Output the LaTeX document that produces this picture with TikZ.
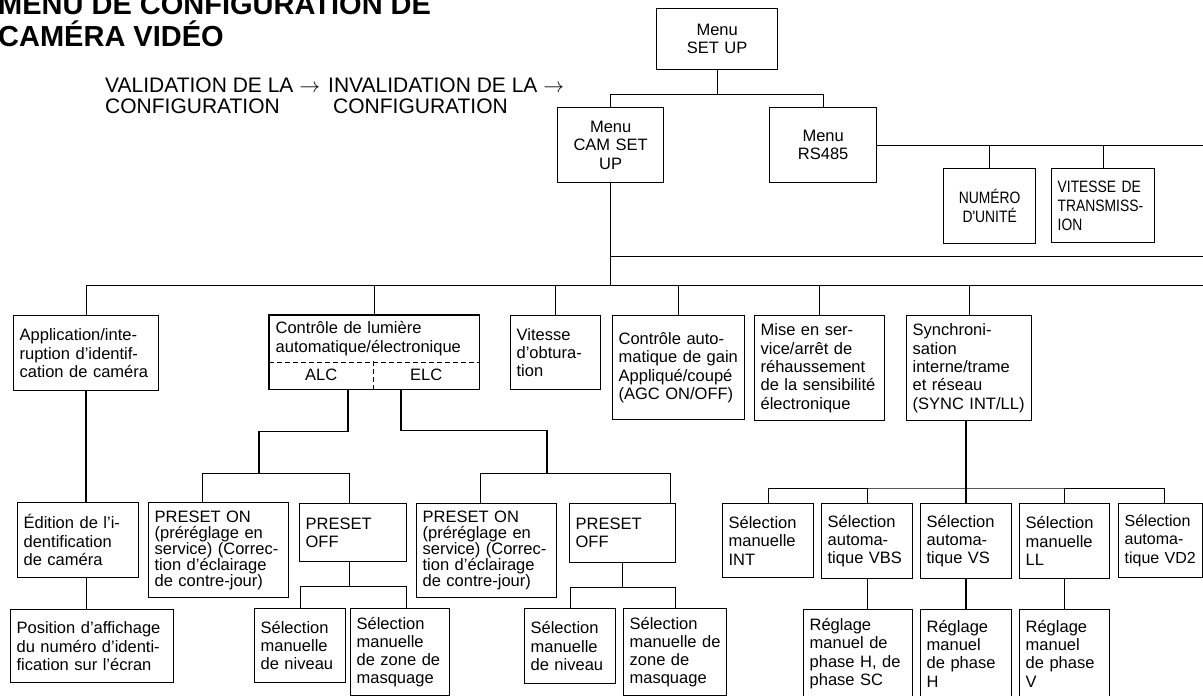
\documentclass[tikz,border=0pt]{standalone}
\usepackage{fontspec}
\setmainfont{Liberation Sans}
\newfontfamily\narrowfont[FakeStretch=0.84]{Liberation Sans}
\newcommand{\boxfont}{\fontsize{16.5}{18.3}\selectfont}
\newcommand{\presetfont}{\fontsize{16.5}{16}\selectfont}
\newcommand{\valfont}{\fontsize{21}{22}\selectfont}
\tikzset{
  box/.style = {draw, line width=1.3pt, anchor=north west, align=left,
                inner xsep=6pt, inner ysep=0pt, font=\boxfont},
  cbox/.style = {box, align=center},
  half/.style = {anchor=north west, inner sep=0pt, minimum height=28pt, font=\boxfont},
  plain/.style = {anchor=base west, inner sep=0pt},
  link/.style = {line width=1pt},
  thicklink/.style = {line width=1.7pt}
}

\begin{document}
\begin{tikzpicture}[x=1pt, y=-1pt]
  \useasboundingbox[fill=white] (0,0) rectangle (1203,696);
  \clip (0,0) rectangle (1203,696);

  \node[plain, font=\fontsize{29}{31}\bfseries] (title1) at (-2,15) {MENU DE CONFIGURATION DE};
  \node[plain, font=\fontsize{29}{31}\bfseries] (title2) at (-2,46) {CAMÉRA VIDÉO};
  \node[plain, font=\valfont] (valon) at (105,92) {VALIDATION DE LA $\rightarrow$};
  \node[plain, font=\valfont] (valon2) at (105,113) {CONFIGURATION};
  \node[plain, font=\valfont] (valoff) at (328,92) {INVALIDATION DE LA $\rightarrow$};
  \node[plain, font=\valfont] (valoff2) at (333,113) {CONFIGURATION};

  % menus
  \node[cbox, text width=109pt, minimum height=61pt] (setup) at (656,8) {Menu\\SET UP};
  \node[cbox, text width=94pt, minimum height=75pt] (camsetup) at (557,107) {Menu\\CAM SET\\UP};
  \node[cbox, text width=95pt, minimum height=75pt] (rs485) at (769,107) {Menu\\RS485};
  \node[cbox, font=\narrowfont\fontsize{16.5}{19}\selectfont, text width=80pt, minimum height=75pt] (unitno) at (943,168) {NUMÉRO\\D'UNITÉ};
  \node[box, font=\narrowfont\fontsize{16.5}{19}\selectfont, text width=91pt, minimum height=74pt] (baudrate) at (1051,168) {VITESSE DE\\TRANSMISS-\\ION};

  % camera set up items
  \node[box, text width=133pt, minimum height=75pt] (appid) at (13,315) {Application/inte-\\ruption d'identif-\\cation de caméra};
  \node[box, draw=none, text width=198pt, minimum height=46pt] (light) at (269,315) {Contrôle de lumière\\automatique/électronique};
  \node[half, minimum width=104pt] (alc) at (269,361) {ALC};
  \node[half, minimum width=106pt] (elc) at (373,361) {ELC};
  \draw[line width=1.3pt] (light.north west) rectangle (elc.south east);
  \draw[link, dashed, dash pattern=on 5pt off 3pt] (light.south west) -- (light.south east) (alc.north east) -- (alc.south east);
  \node[box, text width=78pt, minimum height=74pt] (shutter) at (510,315) {Vitesse\\d'obtura-\\tion};
  \node[box, text width=120pt, minimum height=104pt] (agc) at (612,315) {Contrôle auto-\\matique de gain\\Appliqué/coupé\\(AGC ON/OFF)};
  \node[box, text width=118pt, minimum height=105pt] (sens) at (754,315) {Mise en ser-\\vice/arrêt de\\réhaussement\\de la sensibilité\\électronique};
  \node[box, text width=113pt, minimum height=105pt] (sync) at (906,315) {Synchroni-\\sation\\interne/trame\\et réseau\\(SYNC INT/LL)};

  \node[box, text width=109pt, minimum height=75pt] (idedit) at (17,502) {Édition de l'i-\\dentification\\de caméra};
  \node[box, text width=151pt, minimum height=73pt] (idpos) at (10,609) {Position d'affichage\\du numéro d'identi-\\fication sur l'écran};

  \node[box, font=\presetfont, text width=128pt, minimum height=95pt] (preon1) at (148,502) {PRESET ON\\(préréglage en\\service) (Correc-\\tion d'éclairage\\de contre-jour)};
  \node[box, text width=95pt, minimum height=58pt] (preoff1) at (299,503) {PRESET\\OFF};
  \node[box, text width=79pt, minimum height=74pt] (level1) at (254,608) {Sélection\\manuelle\\de niveau};
  \node[box, text width=87pt, minimum height=87pt] (mask1) at (350,608) {Sélection\\manuelle\\de zone de\\masquage};
  \node[box, font=\presetfont, text width=128pt, minimum height=94pt] (preon2) at (416,503) {PRESET ON\\(préréglage en\\service) (Correc-\\tion d'éclairage\\de contre-jour)};
  \node[box, text width=94pt, minimum height=59pt] (preoff2) at (569,503) {PRESET\\OFF};
  \node[box, text width=79pt, minimum height=75pt] (level2) at (524,608) {Sélection\\manuelle\\de niveau};
  \node[box, text width=91pt, minimum height=87pt] (mask2) at (623,608) {Sélection\\manuelle de\\zone de\\masquage};

  \node[box, text width=79pt, minimum height=74pt] (intsel) at (722,503) {Sélection\\manuelle\\INT};
  \node[box, text width=79pt, minimum height=75pt] (vbs) at (821,503) {Sélection\\automa-\\tique VBS};
  \node[box, text width=79pt, minimum height=75pt] (vs) at (920,503) {Sélection\\automa-\\tique VS};
  \node[box, text width=78pt, minimum height=75pt] (llsel) at (1019,503) {Sélection\\manuelle\\LL};
  \node[box, font=\fontsize{16}{18.3}\selectfont, text width=72pt, minimum height=74pt] (vd2) at (1118,503) {Sélection\\automa-\\tique VD2};
  \node[box, text width=97pt, minimum height=88pt] (phhsc) at (803,609) {Réglage\\manuel de\\phase H, de\\phase SC};
  \node[box, text width=79pt, minimum height=88pt] (phh) at (920,609) {Réglage\\manuel\\de phase\\H};
  \node[box, text width=78pt, minimum height=88pt] (phv) at (1019,609) {Réglage\\manuel\\de phase\\V};

  % connectors
  \draw[link] (setup.south) -- ++(0,24) coordinate (setupbus);
  \draw[link] (camsetup.north) |- (setupbus) -| (rs485.north);
  \draw[link] (rs485.east) -- ++(340,0);
  \draw[link] (unitno.north) -- (unitno.north |- rs485.east);
  \draw[link] (baudrate.north) -- (baudrate.north |- rs485.east);

  \draw[link] (camsetup.south) -- ++(0,102) coordinate (cambus);
  \draw[link] ([yshift=-73pt]camsetup.south) -- ++(600,0);
  \draw[link] (appid.north) |- (cambus) -- ++(640,0);
  \foreach \n in {light, shutter, agc, sens, sync}
    \draw[link] (\n.north) -- (\n.north |- cambus);

  \draw[thicklink] (appid.south) -- (appid.south |- idedit.north);
  \draw[link] (appid.south |- idedit.south) -- (appid.south |- idpos.north);

  \draw[thicklink] ([xshift=27pt]alc.south) |- ++(-89,42) -- ++(0,42) coordinate (alcbus);
  \draw[link] ([xshift=-16pt]preon1.north) |- (alcbus) -| ([xshift=-4pt]preoff1.north);
  \draw[thicklink] ([xshift=-25pt]elc.south) |- ++(146,41) -- ++(0,43) coordinate (elcbus);
  \draw[link] ([xshift=-6pt]preon2.north) |- (elcbus) -| ([xshift=48pt]preoff2.north);

  \draw[link] ([xshift=-4pt]preoff1.south) -- ++(0,24) coordinate (off1bus);
  \draw[link] (level1.north) |- (off1bus) -| ([xshift=6pt]mask1.north);
  \draw[link] (preoff2.south) -- ++(0,24) coordinate (off2bus);
  \draw[link] (level2.north) |- (off2bus) -| (mask2.north);

  \path (vs.north) ++(0,-15) coordinate (syncbus);
  \draw[thicklink] (vs.north |- sync.south) -- (vs.north);
  \draw[link] (intsel.north) |- (syncbus) -| ([xshift=4pt]vd2.north);
  \foreach \n in {vbs, llsel}
    \draw[link] (\n.north) -- (\n.north |- syncbus);
  \draw[link] (vbs.south) -- (vbs.south |- phhsc.north);
  \draw[thicklink] (vs.south) -- (phh.north);
  \draw[link] (llsel.south) -- (llsel.south |- phv.north);
\end{tikzpicture}
\end{document}
